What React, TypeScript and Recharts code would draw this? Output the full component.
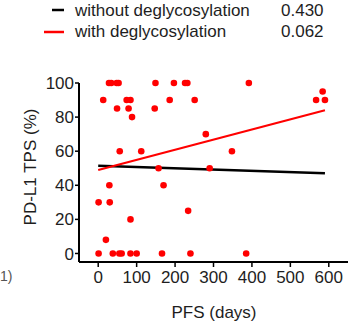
import React from "react";
import {
  ComposedChart,
  Scatter,
  Line,
  XAxis,
  YAxis,
} from "recharts";

// PFS (days) and PD-L1 TPS (%) per patient
const pfsDays = [13, 28, 34, 48, 53, 149, 197, 226, 232, 392, 584, 567, 590, 186, 251, 74, 84, 49, 79, 147, 88, 280, 56, 112, 348, 157, 290, 29, 170, 1, 30, 234, 84, 20, 1, 38, 55, 61, 84, 100, 166, 240, 385];
const tpsPercent = [90, 100, 100, 100, 100, 100, 100, 100, 100, 100, 95, 90, 90, 90, 90, 90, 90, 85, 85, 85, 80, 70, 60, 60, 60, 50, 50, 40, 40, 30, 30, 25, 20, 8, 0, 0, 0, 0, 0, 0, 0, 0, 0];

// Regression line endpoints
const fitX = [0, 590];
const withoutFitY = [51.5, 47];
const withFitY = [49, 84];

const xTicks = [0, 100, 200, 300, 400, 500, 600];
const yTicks = [0, 20, 40, 60, 80, 100];

const legendLabels = ["without deglycosylation", "with deglycosylation"];
const legendValues = ["0.430", "0.062"];
const legendColors = ["#000000", "#ff0000"];

const points = pfsDays.map((x, i) => ({ x, y: tpsPercent[i] }));
const withoutLine = fitX.map((x, i) => ({ x, y: withoutFitY[i] }));
const withLine = fitX.map((x, i) => ({ x, y: withFitY[i] }));

const FONT = "'Liberation Sans', Arial, sans-serif";
const TEXT = "#1e1e1e";

const Dot = (props: any) => {
  const { cx, cy } = props;
  if (cx == null || cy == null) return null;
  return <circle cx={cx} cy={cy} r={3.3} fill="#ff0000" />;
};

export default function App() {
  return (
    <div style={{ position: "absolute", left: 0, top: 0, width: 352, height: 329, fontFamily: FONT }}>
      <svg width={352} height={46} style={{ position: "absolute", left: 0, top: 0 }}>
        {legendLabels.map((lab, i) => (
          <g key={lab}>
            <line
              x1={i === 0 ? 52 : 44}
              x2={64}
              y1={10 + i * 22}
              y2={10 + i * 22}
              stroke={legendColors[i]}
              strokeWidth={2.5}
            />
            <text x={75} y={15.5 + i * 21.5} fontSize={17} fill={TEXT} fontFamily={FONT}>
              {lab}
            </text>
            <text x={281} y={15.5 + i * 21.5} fontSize={17} fill={TEXT} fontFamily={FONT}>
              {legendValues[i]}
            </text>
          </g>
        ))}
      </svg>
      <div style={{ position: "absolute", left: 0, top: 0 }}>
        <ComposedChart
          width={352}
          height={329}
          margin={{ top: 83, right: 4, left: 19, bottom: 0 }}
        >
          <XAxis
            type="number"
            dataKey="x"
            domain={[-50, 650]}
            ticks={xTicks}
            interval={0}
            height={67}
            tickSize={5}
            tickMargin={4}
            axisLine={{ stroke: "#000", strokeWidth: 2 }}
            tickLine={{ stroke: "#000", strokeWidth: 1.5 }}
            tick={{ fontSize: 17, fill: TEXT, fontFamily: FONT }}
          />
          <YAxis
            type="number"
            dataKey="y"
            domain={[-5, 100]}
            ticks={yTicks}
            interval={0}
            width={60}
            tickSize={4}
            tickMargin={1}
            axisLine={{ stroke: "#000", strokeWidth: 2 }}
            tickLine={{ stroke: "#000", strokeWidth: 1.5 }}
            tick={{ fontSize: 17, fill: TEXT, fontFamily: FONT }}
          />
          <Scatter data={points} dataKey="y" fill="#ff0000" shape={Dot} isAnimationActive={false} />
          <Line
            data={withoutLine}
            dataKey="y"
            stroke="#000000"
            strokeWidth={2.5}
            dot={false}
            activeDot={false}
            isAnimationActive={false}
          />
          <Line
            data={withLine}
            dataKey="y"
            stroke="#ff0000"
            strokeWidth={2.2}
            dot={false}
            activeDot={false}
            isAnimationActive={false}
          />
        </ComposedChart>
      </div>
      <svg width={352} height={329} style={{ position: "absolute", left: 0, top: 0, pointerEvents: "none" }}>
        <text
          x={36}
          y={167}
          transform="rotate(-90, 36, 167)"
          textAnchor="middle"
          fontSize={17}
          fill={TEXT}
          fontFamily={FONT}
        >
          PD-L1 TPS (%)
        </text>
        <text x={214} y={318} textAnchor="middle" fontSize={17} fill={TEXT} fontFamily={FONT}>
          PFS (days)
        </text>
        <text x={0} y={281} fontSize={14} fill="#555" fontFamily={FONT}>
          1)
        </text>
      </svg>
    </div>
  );
}
